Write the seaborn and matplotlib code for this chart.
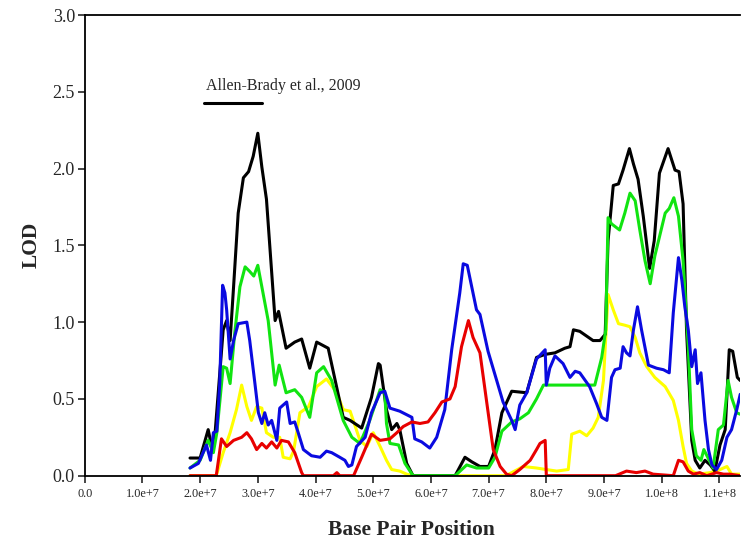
import matplotlib
matplotlib.use("Agg")
import matplotlib.pyplot as plt
import seaborn as sns
import pandas as pd
from matplotlib.ticker import FuncFormatter, MultipleLocator

# LOD profiles along the chromosome: (position in Mb, LOD)
black_lod = [
    (18.25, 0.115), (20.0, 0.115), (21.4, 0.30), (22.0, 0.19), (22.6, 0.28), (24.0, 0.95),
    (24.6, 1.01), (25.2, 0.88), (25.8, 1.23), (26.6, 1.71), (27.5, 1.94), (28.4, 1.98),
    (29.2, 2.08), (30.0, 2.23), (30.7, 2.01), (31.5, 1.80), (33.0, 1.01), (33.6, 1.07),
    (34.9, 0.83), (36.4, 0.87), (37.6, 0.89), (39.0, 0.70), (40.2, 0.87), (42.2, 0.83),
    (44.8, 0.38), (46.0, 0.36), (48.0, 0.31), (49.7, 0.51), (50.9, 0.73), (51.2, 0.72),
    (52.3, 0.43), (53.2, 0.30), (54.1, 0.34), (54.6, 0.30), (55.8, 0.08), (56.9, 0.0),
    (64.2, 0.0), (65.9, 0.12), (67.1, 0.09), (68.5, 0.06), (70.0, 0.06), (71.1, 0.17),
    (72.3, 0.41), (74.0, 0.55), (76.6, 0.54), (78.3, 0.77), (79.8, 0.79), (81.5, 0.80),
    (83.2, 0.83), (84.1, 0.84), (84.7, 0.95), (85.8, 0.94), (88.1, 0.88), (89.3, 0.88),
    (90.2, 0.92), (90.7, 1.53), (91.6, 1.89), (92.5, 1.90), (93.3, 1.99), (94.4, 2.13),
    (95.1, 2.03), (95.9, 1.93), (96.8, 1.69), (97.9, 1.35), (98.7, 1.53), (99.6, 1.97),
    (101.1, 2.13), (102.3, 1.99), (103.0, 1.98), (103.7, 1.77), (104.3, 0.95), (105.2, 0.23),
    (105.8, 0.10), (106.6, 0.05), (107.5, 0.10), (108.4, 0.07), (109.2, 0.03), (110.1, 0.20),
    (111.0, 0.30), (111.7, 0.82), (112.3, 0.81), (113.1, 0.64), (113.6, 0.62),
]
green_lod = [
    (18.25, 0.05), (20.0, 0.10), (21.4, 0.23), (22.3, 0.15), (22.9, 0.28), (24.0, 0.71),
    (24.6, 0.70), (25.2, 0.60), (26.0, 0.93), (26.9, 1.23), (27.8, 1.36), (28.6, 1.33),
    (29.3, 1.30), (30.0, 1.37), (30.7, 1.23), (31.8, 1.01), (33.0, 0.59), (33.7, 0.72),
    (34.9, 0.54), (36.4, 0.56), (37.6, 0.51), (39.0, 0.38), (40.2, 0.67), (41.4, 0.71),
    (42.8, 0.62), (44.8, 0.36), (46.3, 0.25), (47.7, 0.21), (49.4, 0.36), (51.2, 0.56),
    (52.0, 0.54), (52.3, 0.34), (52.9, 0.21), (54.4, 0.20), (55.5, 0.08), (56.9, 0.0),
    (64.2, 0.0), (66.2, 0.07), (67.9, 0.05), (70.0, 0.05), (71.1, 0.12), (72.3, 0.29),
    (74.0, 0.35), (75.4, 0.37), (76.9, 0.41), (78.3, 0.50), (79.5, 0.59), (81.2, 0.59),
    (85.8, 0.59), (88.4, 0.59), (89.6, 0.77), (90.3, 0.95), (90.7, 1.68), (91.3, 1.64),
    (92.7, 1.60), (93.6, 1.71), (94.5, 1.84), (95.4, 1.79), (96.2, 1.60), (97.1, 1.40),
    (98.0, 1.25), (98.8, 1.43), (100.6, 1.71), (101.3, 1.74), (102.1, 1.81), (102.9, 1.69),
    (103.7, 1.40), (104.6, 0.84), (105.2, 0.30), (106.0, 0.13), (106.8, 0.10), (107.3, 0.17),
    (108.1, 0.11), (108.9, 0.05), (109.8, 0.30), (110.7, 0.33), (111.5, 0.62), (112.1, 0.51),
    (113.0, 0.41), (113.6, 0.40),
]
blue_lod = [
    (18.25, 0.05), (19.7, 0.08), (21.1, 0.20), (21.8, 0.10), (22.3, 0.28), (22.9, 0.29),
    (23.4, 0.60), (23.9, 1.24), (24.3, 1.19), (24.6, 1.08), (25.2, 0.76), (25.8, 0.88),
    (26.6, 0.99), (28.1, 1.00), (28.6, 0.88), (29.5, 0.60), (30.1, 0.41), (30.7, 0.34),
    (31.2, 0.41), (31.8, 0.33), (32.4, 0.36), (33.3, 0.23), (33.8, 0.44), (35.0, 0.48),
    (35.6, 0.34), (36.4, 0.35), (37.0, 0.28), (37.9, 0.17), (39.3, 0.13), (40.8, 0.12),
    (41.9, 0.16), (42.8, 0.15), (44.2, 0.12), (45.1, 0.10), (45.7, 0.06), (46.3, 0.07),
    (47.1, 0.19), (48.6, 0.25), (49.7, 0.41), (51.2, 0.54), (52.0, 0.55), (52.9, 0.44),
    (54.6, 0.42), (56.7, 0.38), (57.2, 0.24), (58.4, 0.22), (59.8, 0.18), (61.0, 0.25),
    (62.4, 0.43), (63.6, 0.82), (65.0, 1.19), (65.6, 1.38), (66.3, 1.37), (67.9, 1.08),
    (68.5, 1.05), (69.9, 0.81), (71.4, 0.62), (72.5, 0.48), (74.0, 0.36), (74.6, 0.30),
    (75.4, 0.46), (76.6, 0.54), (78.3, 0.76), (79.8, 0.82), (80.0, 0.59), (80.6, 0.70),
    (81.5, 0.78), (82.9, 0.73), (84.1, 0.64), (85.0, 0.68), (85.8, 0.67), (87.5, 0.58),
    (88.7, 0.47), (89.6, 0.38), (90.5, 0.36), (91.3, 0.64), (91.9, 0.69), (92.8, 0.70),
    (93.3, 0.84), (93.9, 0.80), (94.5, 0.78), (95.1, 0.95), (95.8, 1.10), (96.5, 0.95),
    (97.7, 0.72), (99.1, 0.70), (100.3, 0.69), (101.3, 0.67), (102.0, 1.06), (102.9, 1.42),
    (103.5, 1.27), (104.0, 1.10), (104.6, 0.95), (105.2, 0.71), (105.8, 0.82), (106.2, 0.60),
    (106.8, 0.67), (107.5, 0.36), (108.1, 0.17), (108.7, 0.07), (109.5, 0.04), (110.4, 0.10),
    (111.3, 0.25), (112.1, 0.30), (113.0, 0.43), (113.6, 0.53),
]
yellow_lod = [
    (18.25, 0.0), (22.8, 0.0), (24.0, 0.15), (25.2, 0.28), (26.3, 0.43), (27.2, 0.59),
    (28.1, 0.45), (28.9, 0.36), (29.8, 0.45), (30.7, 0.44), (31.5, 0.28), (32.7, 0.25),
    (33.8, 0.25), (34.4, 0.12), (35.6, 0.11), (36.2, 0.16), (37.3, 0.41), (38.8, 0.45),
    (40.2, 0.58), (41.9, 0.63), (43.7, 0.54), (44.8, 0.43), (46.0, 0.42), (47.7, 0.23),
    (48.9, 0.19), (50.0, 0.28), (51.2, 0.19), (52.3, 0.10), (53.2, 0.04), (54.6, 0.03),
    (55.8, 0.01), (56.9, 0.0), (73.0, 0.0), (76.0, 0.06), (78.3, 0.05), (80.0, 0.04),
    (81.8, 0.03), (83.8, 0.04), (84.4, 0.27), (85.8, 0.29), (87.0, 0.26), (88.1, 0.31),
    (89.0, 0.38), (89.9, 0.62), (90.7, 1.18), (91.6, 1.08), (92.5, 0.99), (93.6, 0.98),
    (94.5, 0.97), (95.4, 0.90), (96.2, 0.80), (97.4, 0.71), (98.8, 0.64), (100.6, 0.58),
    (102.0, 0.49), (102.9, 0.36), (103.7, 0.19), (104.3, 0.08), (105.2, 0.03), (106.4, 0.01),
    (108.4, 0.02), (110.1, 0.04), (111.3, 0.06), (112.1, 0.01), (113.6, 0.01),
]
red_lod = [
    (18.25, 0.0), (22.8, 0.0), (23.7, 0.24), (24.6, 0.19), (25.8, 0.23), (27.2, 0.25),
    (28.1, 0.28), (28.9, 0.24), (29.8, 0.17), (30.7, 0.21), (31.5, 0.18), (32.4, 0.22),
    (33.3, 0.18), (34.1, 0.23), (35.3, 0.22), (36.4, 0.15), (37.6, 0.02), (37.9, 0.0),
    (43.1, 0.0), (43.7, 0.02), (44.2, 0.0), (46.6, 0.0), (48.0, 0.12), (49.7, 0.27),
    (51.2, 0.23), (52.9, 0.24), (54.1, 0.28), (55.2, 0.32), (56.7, 0.35), (58.1, 0.34),
    (59.5, 0.35), (60.7, 0.41), (61.9, 0.48), (63.3, 0.50), (64.2, 0.58), (65.3, 0.84),
    (66.5, 1.01), (67.3, 0.90), (68.5, 0.80), (69.7, 0.47), (70.8, 0.17), (72.0, 0.06),
    (73.1, 0.01), (74.0, 0.0), (75.4, 0.04), (77.2, 0.10), (78.3, 0.17), (78.9, 0.21),
    (79.8, 0.23), (80.0, 0.0), (92.0, 0.0), (93.9, 0.03), (95.6, 0.02), (97.1, 0.03),
    (98.5, 0.01), (102.0, 0.0), (102.9, 0.10), (103.7, 0.09), (104.6, 0.03), (105.5, 0.01),
    (106.6, 0.02), (107.8, 0.0), (109.5, 0.02), (110.7, 0.01), (111.8, 0.01), (113.6, 0.0),
]

# drawing order (first drawn = bottom)
series = {"yellow": yellow_lod, "black": black_lod, "green": green_lod,
          "blue": blue_lod, "red": red_lod}
colors = {"yellow": "#ffff00", "black": "#000000", "green": "#11e411",
          "blue": "#0a0ae0", "red": "#e80000"}

# published linkage region
allen_brady_label = "Allen-Brady et al., 2009"
allen_brady_region = [20.7e6, 30.7e6]
allen_brady_lod = 2.426

rows = []
for name, pts in series.items():
    for mb, lod in pts:
        rows.append({"series": name, "pos": mb * 1e6, "lod": lod})
df = pd.DataFrame(rows)

sns.set_style("ticks")
plt.rcParams["font.family"] = ["Liberation Serif", "DejaVu Serif"]

fig = plt.figure(figsize=(7.41, 5.40), dpi=100)
ax = fig.add_axes([0.1143, 0.1191, 0.8844, 0.8531])

sns.lineplot(data=df, x="pos", y="lod", hue="series", hue_order=list(series),
             palette=colors, estimator=None, sort=False, units="series",
             linewidth=2.2, legend=False, ax=ax)

ax.plot(allen_brady_region, [allen_brady_lod, allen_brady_lod], color="black", lw=2.2)
ax.text(21.0e6, 2.535, allen_brady_label, fontsize=11.5, ha="left", va="center")

ax.set_xlim(0, 1.1357e8)
ax.set_ylim(0, 3.0)
ax.xaxis.set_major_locator(MultipleLocator(1e7))
ax.yaxis.set_major_locator(MultipleLocator(0.5))


def sci_fmt(v, pos):
    if v == 0:
        return "0.0"
    mant, exp = f"{v:.1e}".split("e")
    return f"{mant}e+{int(exp)}"


ax.xaxis.set_major_formatter(FuncFormatter(sci_fmt))
ax.yaxis.set_major_formatter(FuncFormatter(lambda v, p: f"{v:.1f}"))

ax.tick_params(axis="y", direction="out", length=5, width=1.2, labelsize=13, pad=2)
ax.tick_params(axis="x", direction="out", length=5, width=1.2, labelsize=8.8, pad=4)

for side in ["left", "bottom", "top"]:
    ax.spines[side].set_linewidth(1.3)
    ax.spines[side].set_color("black")
ax.spines["right"].set_visible(False)

ax.set_xlabel("Base Pair Position", fontsize=15.5, fontweight="bold", va="top")
ax.set_ylabel("LOD", fontsize=15.5, fontweight="bold")
ax.xaxis.set_label_coords(0.498, -0.097)
ax.yaxis.set_label_coords(-0.066, 0.5)

fig.savefig("out.png", dpi=100)
